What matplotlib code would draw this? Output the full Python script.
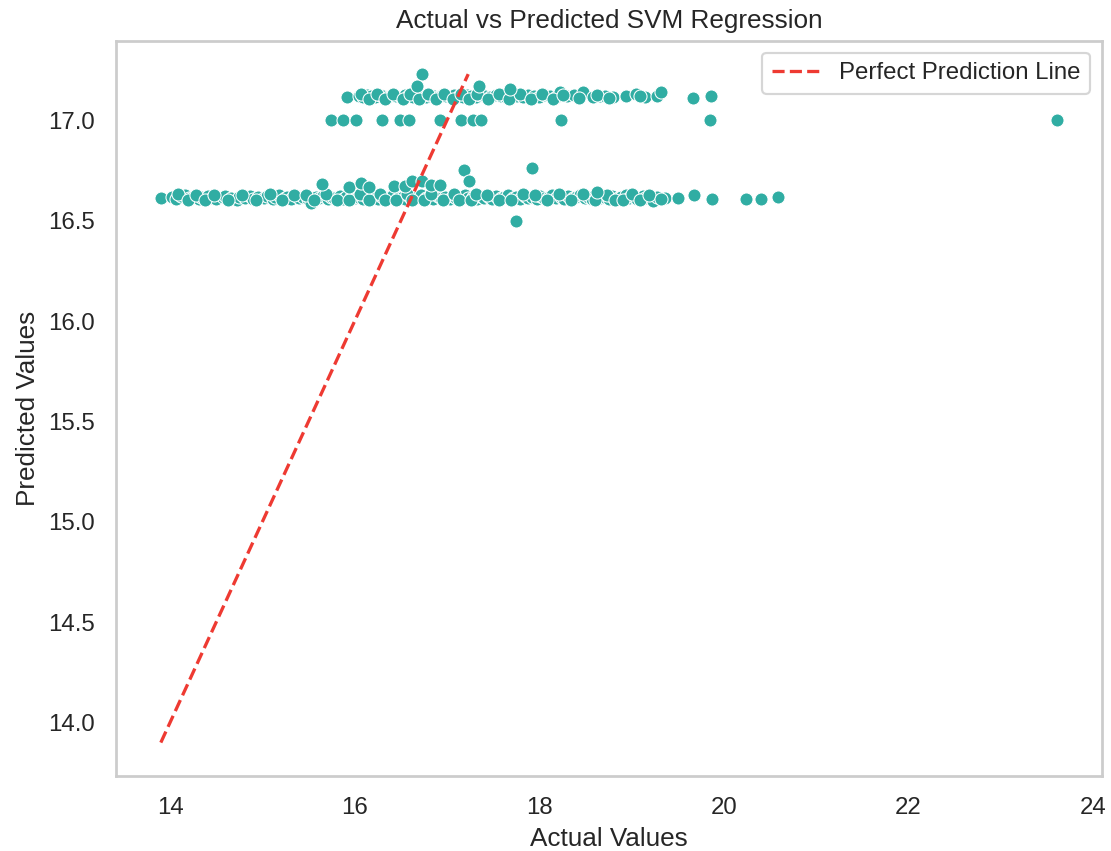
import matplotlib
matplotlib.use("Agg")
import matplotlib.pyplot as plt
import seaborn as sns

# Lower prediction band (actual, predicted)
lower_band = [
    (13.90, 16.615), (14.02, 16.620), (14.06, 16.610), (14.12, 16.625), (14.16, 16.630),
    (14.21, 16.615), (14.25, 16.620), (14.31, 16.610), (14.34, 16.620), (14.41, 16.625),
    (14.45, 16.615), (14.50, 16.610), (14.57, 16.620), (14.60, 16.625), (14.66, 16.615),
    (14.72, 16.605), (14.75, 16.620), (14.81, 16.615), (14.87, 16.625), (14.90, 16.610),
    (14.95, 16.620), (15.02, 16.615), (15.05, 16.625), (15.11, 16.610), (15.14, 16.620),
    (15.18, 16.630), (15.24, 16.615), (15.27, 16.620), (15.31, 16.610), (15.37, 16.625),
    (15.40, 16.615), (15.44, 16.620), (15.49, 16.610), (15.53, 16.590), (15.58, 16.620),
    (15.61, 16.615), (15.66, 16.625), (15.71, 16.610), (15.74, 16.620), (15.78, 16.615),
    (15.84, 16.625), (15.87, 16.610), (15.91, 16.620), (15.97, 16.630), (16.00, 16.615),
    (16.04, 16.620), (16.09, 16.610), (16.12, 16.625), (16.17, 16.615), (16.22, 16.620),
    (16.25, 16.610), (16.29, 16.625), (16.35, 16.615), (16.38, 16.620), (16.42, 16.630),
    (16.47, 16.615), (16.52, 16.620), (16.55, 16.610), (16.59, 16.625), (16.65, 16.615),
    (16.68, 16.620), (16.72, 16.630), (16.77, 16.615), (16.81, 16.620), (16.85, 16.610),
    (16.90, 16.625), (16.93, 16.615), (16.98, 16.620), (17.03, 16.610), (17.06, 16.625),
    (17.10, 16.615), (17.15, 16.620), (17.20, 16.630), (17.23, 16.615), (17.28, 16.620),
    (17.33, 16.610), (17.36, 16.625), (17.40, 16.615), (17.46, 16.620), (17.49, 16.610),
    (17.53, 16.625), (17.59, 16.615), (17.62, 16.620), (17.66, 16.630), (17.72, 16.615),
    (17.75, 16.620), (17.79, 16.610), (17.85, 16.625), (17.88, 16.615), (17.92, 16.620),
    (17.98, 16.610), (18.01, 16.625), (18.05, 16.615), (18.11, 16.620), (18.14, 16.630),
    (18.18, 16.615), (18.24, 16.620), (18.27, 16.610), (18.31, 16.625), (18.37, 16.615),
    (18.40, 16.620), (18.44, 16.630), (18.50, 16.615), (18.53, 16.620), (18.57, 16.610),
    (18.63, 16.625), (18.66, 16.615), (18.70, 16.620), (18.76, 16.610), (18.79, 16.625),
    (18.85, 16.615), (18.88, 16.620), (18.94, 16.630), (18.97, 16.615), (19.03, 16.620),
    (19.06, 16.610), (19.12, 16.625), (19.15, 16.615), (19.23, 16.600), (19.28, 16.620),
    (19.36, 16.615), (19.50, 16.615), (19.68, 16.630), (19.87, 16.610), (20.24, 16.610),
    (20.40, 16.610), (20.59, 16.620),
]

# Further overlapping points within the lower band
lower_band_extra = [
    (14.09, 16.635), (14.19, 16.605), (14.28, 16.630), (14.38, 16.605), (14.48, 16.630),
    (14.63, 16.605), (14.78, 16.630), (14.93, 16.605), (15.08, 16.635), (15.21, 16.605),
    (15.34, 16.630), (15.47, 16.630), (15.56, 16.605), (15.69, 16.635), (15.81, 16.605),
    (15.94, 16.605), (16.06, 16.635), (16.15, 16.605), (16.27, 16.635), (16.33, 16.605),
    (16.45, 16.605), (16.57, 16.635), (16.62, 16.605), (16.75, 16.605), (16.83, 16.635),
    (16.96, 16.605), (17.08, 16.635), (17.13, 16.605), (17.26, 16.605), (17.31, 16.635),
    (17.43, 16.630), (17.56, 16.605), (17.69, 16.605), (17.82, 16.635), (17.95, 16.630),
    (18.08, 16.605), (18.21, 16.635), (18.34, 16.605), (18.47, 16.635), (18.60, 16.605),
    (18.73, 16.630), (18.82, 16.605), (18.91, 16.605), (19.00, 16.635), (19.09, 16.605),
    (19.19, 16.630), (19.32, 16.610),
]

# Points sitting slightly off the lower band
lower_outliers = [
    (15.65, 16.685), (15.94, 16.670), (16.07, 16.690), (16.16, 16.670), (16.43, 16.675),
    (16.54, 16.675), (16.62, 16.700), (16.73, 16.700), (16.83, 16.680), (16.92, 16.680),
    (17.18, 16.750), (17.24, 16.700), (17.92, 16.760), (17.75, 16.500), (18.63, 16.645),
]

# Upper prediction band
upper_band = [
    (15.92, 17.115), (16.05, 17.120), (16.09, 17.115), (16.13, 17.125), (16.18, 17.120),
    (16.22, 17.115), (16.27, 17.125), (16.31, 17.120), (16.36, 17.115), (16.40, 17.125),
    (16.45, 17.120), (16.50, 17.115), (16.54, 17.125), (16.58, 17.120), (16.63, 17.115),
    (16.68, 17.125), (16.72, 17.120), (16.77, 17.115), (16.81, 17.125), (16.86, 17.120),
    (16.90, 17.115), (16.95, 17.125), (16.99, 17.120), (17.04, 17.115), (17.08, 17.125),
    (17.13, 17.120), (17.17, 17.115), (17.22, 17.125), (17.26, 17.120), (17.31, 17.115),
    (17.36, 17.125), (17.41, 17.120), (17.47, 17.115), (17.53, 17.125), (17.58, 17.120),
    (17.64, 17.115), (17.70, 17.125), (17.76, 17.120), (17.82, 17.115), (17.88, 17.125),
    (17.94, 17.120), (18.00, 17.115), (18.06, 17.125), (18.12, 17.120), (18.18, 17.115),
    (18.22, 17.140), (18.30, 17.120), (18.38, 17.125), (18.47, 17.140), (18.58, 17.115),
    (18.66, 17.120), (18.71, 17.120), (18.80, 17.115), (18.94, 17.120), (19.05, 17.130),
    (19.14, 17.115), (19.27, 17.120), (19.32, 17.140), (19.67, 17.110), (19.86, 17.120),
]

# Further overlapping points within the upper band
upper_band_extra = [
    (16.07, 17.130), (16.15, 17.105), (16.24, 17.130), (16.33, 17.105), (16.42, 17.130),
    (16.52, 17.105), (16.60, 17.130), (16.70, 17.105), (16.79, 17.130), (16.88, 17.105),
    (16.97, 17.130), (17.06, 17.105), (17.15, 17.130), (17.24, 17.105), (17.33, 17.130),
    (17.44, 17.105), (17.56, 17.130), (17.67, 17.105), (17.79, 17.130), (17.91, 17.105),
    (18.03, 17.130), (18.15, 17.105), (18.26, 17.125), (18.43, 17.110), (18.62, 17.125),
    (18.76, 17.110), (19.09, 17.120),
]

# Points above the upper band
upper_outliers = [
    (16.73, 17.230), (16.67, 17.170), (17.35, 17.170), (17.68, 17.155),
]

# Row of predictions at 17.0
middle_row = [
    (15.74, 17.0), (15.87, 17.0), (16.01, 17.0), (16.30, 17.0), (16.49, 17.0),
    (16.59, 17.0), (16.92, 17.0), (17.15, 17.0), (17.28, 17.0), (17.37, 17.0),
    (18.24, 17.0), (19.85, 17.0), (23.61, 17.0),
]

points = (lower_band + lower_band_extra + lower_outliers
          + upper_band + upper_band_extra + upper_outliers + middle_row)
actual = [p[0] for p in points]
predicted = [p[1] for p in points]

sns.set_theme(style="whitegrid")
plt.rcParams["font.family"] = ["Liberation Sans", "DejaVu Sans"]

DPI = 157
fig = plt.figure(figsize=(1111 / DPI, 851 / DPI), dpi=DPI)
ax = fig.add_axes([116 / 1111, 1 - 776 / 851, (1102 - 116) / 1111, (776 - 40.7) / 851])

sns.scatterplot(x=actual, y=predicted, color="#30ada3", ax=ax)

line_lo = min(actual)
line_hi = max(predicted)
ax.plot([line_lo, line_hi], [line_lo, line_hi], color="#ee3a32", linestyle="--",
        linewidth=1.5, label="Perfect Prediction Line")

ax.grid(False)
ax.set_title("Actual vs Predicted SVM Regression")
ax.set_xlabel("Actual Values")
ax.set_ylabel("Predicted Values")
ax.legend(loc="upper right")

fig.savefig("out.png", dpi=DPI)
